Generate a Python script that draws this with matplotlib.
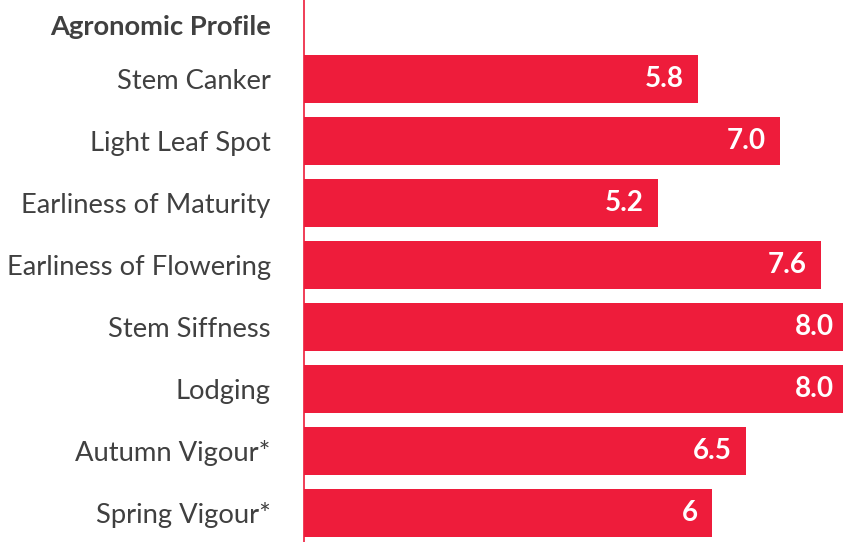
import numpy as np
import matplotlib.pyplot as plt

plt.rcParams['font.family'] = ['Lato', 'DejaVu Sans']

header = "Agronomic Profile"
traits = ["Stem Canker", "Light Leaf Spot", "Earliness of Maturity",
          "Earliness of Flowering", "Stem Siffness", "Lodging",
          "Autumn Vigour*", "Spring Vigour*"]
scores = [5.8, 7.0, 5.2, 7.6, 8.0, 8.0, 6.5, 6.0]
score_labels = ["5.8", "7.0", "5.2", "7.6", "8.0", "8.0", "6.5", "6"]

red = "#EE1C3B"
grey = "#404040"

fig = plt.figure(figsize=(8.43, 5.42), dpi=100)
ax = fig.add_axes([304 / 843, 0, 539 / 843, 1])

y = np.arange(len(traits))
ax.barh(y, scores, height=48 / 62, color=red)
# 8.0 bars run past the right edge in the original
ax.set_xlim(0, 539 / 68)
ax.set_ylim((542 - 79) / 62, -79 / 62)

ax.set_yticks(list(y) + [-54 / 62])
ax.set_yticklabels(traits + [header])
for lab in ax.get_yticklabels():
    lab.set_fontsize(19.7)
    lab.set_color(grey)
ax.get_yticklabels()[-1].set_fontweight('bold')
ax.tick_params(axis='y', length=0, pad=24)
ax.set_xticks([])

for sp in ['top', 'right', 'bottom']:
    ax.spines[sp].set_visible(False)
ax.spines['left'].set_color(red)
ax.spines['left'].set_linewidth(1.2)

for yi, v, s in zip(y, scores, score_labels):
    ax.text(v - 0.21, yi, s, color='white', fontsize=20, fontweight='bold',
            ha='right', va='center')

fig.savefig("out.png", dpi=100)
